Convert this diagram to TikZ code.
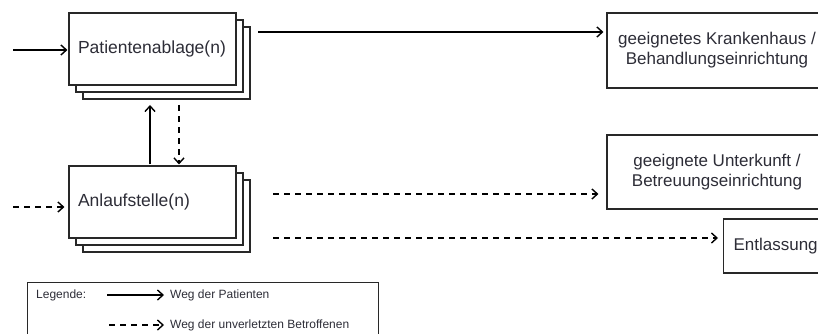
\documentclass[tikz,border=0pt]{standalone}
\usepackage{fontspec}
\setmainfont{Liberation Sans}
\usetikzlibrary{arrows.meta,shadows}
\definecolor{txt}{RGB}{45,45,55}
\definecolor{edge}{RGB}{40,40,40}
\tikzset{
  bigtext/.style={font=\fontsize{17.5}{20}\selectfont, text=txt},
  desttext/.style={font=\fontsize{17}{20}\selectfont, text=txt},
  smalltext/.style={font=\fontsize{12}{14}\selectfont, text=txt, anchor=west, inner sep=0pt},
  box/.style={draw=edge, line width=1.1pt, fill=white, bigtext},
  destbox/.style={box, desttext},
  stackbox/.style={box, minimum height=72pt, text width=149pt, inner xsep=9pt, align=left,
     double copy shadow={shadow xshift=7pt, shadow yshift=-7pt}},
  solidarrow/.style={draw=black, line width=1.3pt, -{Straight Barb[length=5.5pt,width=10pt,line width=1.4pt]}},
  dasharrow/.style={solidarrow, dash pattern=on 6pt off 5pt}
}
\begin{document}
\begin{tikzpicture}[x=1pt,y=-1pt]
\useasboundingbox (0,0) rectangle (818,334);
\clip (0,0) rectangle (818,334);

% main stacked boxes
\node[stackbox] (pa) at (152.5,49) {Patientenablage(n)};
\node[stackbox] (an) at (152.5,202) {Anlaufstelle(n)};

% destination boxes
\node[destbox, minimum width=220pt, minimum height=75pt, align=center] (kh) at (717,50.5)
  {geeignetes Krankenhaus /\\Behandlungseinrichtung};
\node[destbox, minimum width=220pt, minimum height=74pt, align=center] (uk) at (717,172)
  {geeignete Unterkunft /\\Betreuungseinrichtung};
\node[destbox, anchor=west, minimum height=54pt, text width=88pt, inner xsep=10pt, align=left] (en) at (723,246)
  {Entlassung};

% free ends
\coordinate (inpa) at (13,50);
\coordinate (inan) at (13,207);
\coordinate (outpa) at (258,32);
\coordinate (outan1) at (273,194);
\coordinate (outan2) at (273,238);
\coordinate (up) at (150,105);
\coordinate (down) at (179,105);

% connectors
\draw[solidarrow, shorten >=1pt] (inpa) -- (pa.west |- inpa);
\draw[dasharrow, shorten >=4pt] (inan) -- (an.west |- inan);
\draw[solidarrow, shorten >=3pt] (outpa) -- (kh.west |- outpa);
\draw[dasharrow, shorten >=8pt] (outan1) -- (uk.west |- outan1);
\draw[dasharrow, shorten >=5pt] (outan2) -- (en.west |- outan2);
\draw[solidarrow, shorten <=1pt] (an.north -| up) -- (up);
\draw[dasharrow, shorten >=1pt] (down) -- (an.north -| down);

% legend
\node[draw=edge, line width=0.9pt, anchor=north west, minimum width=351pt, minimum height=70pt] (lg) at (27,282) {};
\node[smalltext] (lgt) at (36,295) {Legende:};
\node[smalltext] (l1) at (170,295) {Weg der Patienten};
\node[smalltext] (l2) at (170,325) {Weg der unverletzten Betroffenen};
\coordinate (l1s) at (107,295);
\coordinate (l2s) at (109,325);
\draw[solidarrow, shorten >=6pt] (l1s) -- (l1.west);
\draw[dasharrow, shorten >=6pt] (l2s) -- (l2.west);
\end{tikzpicture}
\end{document}
